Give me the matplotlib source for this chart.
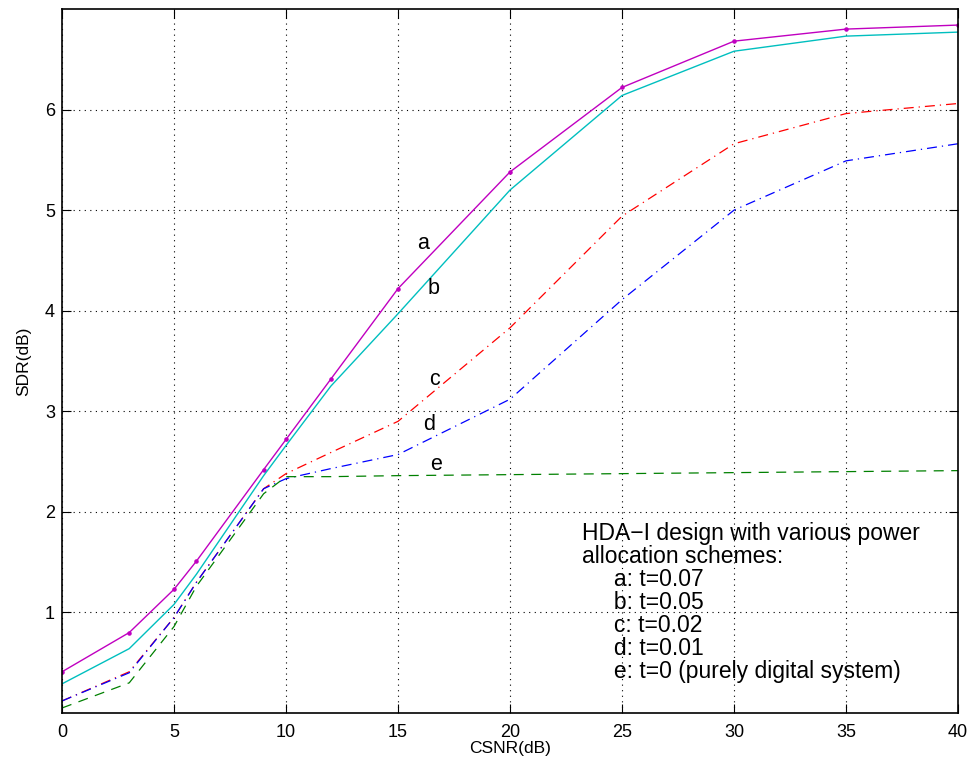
import matplotlib
matplotlib.use("Agg")
import matplotlib.pyplot as plt

plt.rcParams['font.family'] = ['Liberation Sans', 'DejaVu Sans']

csnr = [0, 3, 5, 6, 9, 10, 12, 15, 20, 25, 30, 35, 40]
sdr_a = [0.41, 0.80, 1.23, 1.51, 2.42, 2.72, 3.32, 4.22, 5.38, 6.22, 6.68, 6.80, 6.84]
sdr_b = [0.29, 0.64, 1.08, 1.38, 2.36, 2.66, 3.25, 3.97, 5.20, 6.14, 6.58, 6.73, 6.77]
sdr_c = [0.12, 0.41, 0.95, 1.30, 2.23, 2.38, 2.59, 2.90, 3.83, 4.94, 5.66, 5.96, 6.06]
sdr_d = [0.12, 0.40, 0.95, 1.30, 2.23, 2.33, 2.43, 2.57, 3.12, 4.11, 5.00, 5.49, 5.66]
sdr_e = [0.05, 0.30, 0.86, 1.26, 2.18, 2.35, 2.35, 2.36, 2.37, 2.38, 2.39, 2.40, 2.41]

curve_labels = ['a', 'b', 'c', 'd', 'e']
label_pos_x = [16.1, 16.6, 16.65, 16.4, 16.7]
label_pos_y = [4.67, 4.22, 3.32, 2.87, 2.47]

xticks = [0, 5, 10, 15, 20, 25, 30, 35, 40]
yticks = [1, 2, 3, 4, 5, 6]

note_lines = ["HDA\u2212I design with various power",
              "allocation schemes:",
              "     a: t=0.07",
              "     b: t=0.05",
              "     c: t=0.02",
              "     d: t=0.01",
              "     e: t=0 (purely digital system)"]

fig = plt.figure(figsize=(9.74, 7.67), dpi=100)
ax = fig.add_axes([0.0637, 0.0704, 0.9199, 0.9179])

ax.plot(csnr, sdr_a, color='#c000c0', lw=1.0, marker='.', ms=4.5)
ax.plot(csnr, sdr_b, color='#00bfbf', lw=1.0)
ax.plot(csnr, sdr_c, color='#ff0000', lw=0.9, linestyle=(0, (8, 4, 1, 4)))
ax.plot(csnr, sdr_d, color='#0000ff', lw=0.9, linestyle=(0, (8, 4, 1, 4)))
ax.plot(csnr, sdr_e, color='#008000', lw=0.9, linestyle=(0, (8, 6)))

for lab, lx, ly in zip(curve_labels, label_pos_x, label_pos_y):
    ax.text(lx, ly, lab, fontsize=15.5, ha='center', va='center')

ax.text(23.2, 1.90, "\n".join(note_lines), fontsize=16.5, ha='left', va='top',
        linespacing=1.0)

ax.set_xlim(0, 40)
ax.set_ylim(0, 7)
ax.set_xticks(xticks)
ax.set_yticks(yticks)
ax.tick_params(direction='in', top=True, right=True, labelsize=13, length=6.5)
ax.tick_params(axis='x', pad=8)
ax.tick_params(axis='y', pad=5)
ax.grid(True, color='black', linestyle=(0, (1, 4)), linewidth=0.8)
for s in ax.spines.values():
    s.set_linewidth(1.2)

ax.set_xlabel("CSNR(dB)", fontsize=12.5, labelpad=0)
ax.set_ylabel("SDR(dB)", fontsize=12.5, labelpad=10)

fig.savefig("out.png", dpi=100)
